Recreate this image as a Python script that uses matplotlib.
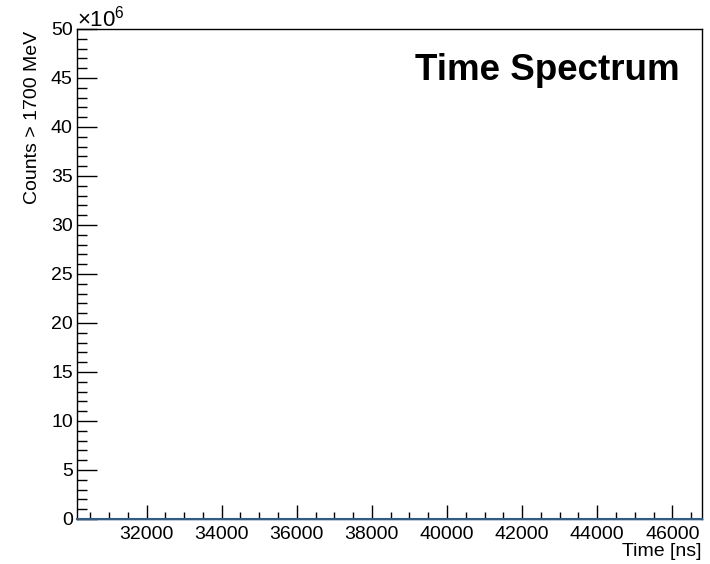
import matplotlib
matplotlib.use("Agg")
import matplotlib.pyplot as plt
from matplotlib.ticker import MultipleLocator, FuncFormatter

plt.rcParams['font.family'] = ['Liberation Sans', 'DejaVu Sans']
plt.rcParams['mathtext.fontset'] = 'custom'
plt.rcParams['mathtext.rm'] = 'Liberation Sans'
plt.rcParams['mathtext.it'] = 'Liberation Sans:italic'

# histogram: time range and counts (empty spectrum)
time_edges = [30150, 46790]
counts = [0, 0]

fig = plt.figure(figsize=(7.1, 5.64), dpi=100)
ax = fig.add_axes([0.1085, 0.0798, 0.8802, 0.8688])

ax.plot(time_edges, counts, color='#2c5d8f', lw=1.5, drawstyle='steps-post', clip_on=False, zorder=3)

ax.set_xlim(30150, 46790)
ax.set_ylim(0, 50e6)

ax.xaxis.set_major_locator(MultipleLocator(2000))
ax.xaxis.set_minor_locator(MultipleLocator(500))
ax.yaxis.set_major_locator(MultipleLocator(5e6))
ax.yaxis.set_minor_locator(MultipleLocator(1e6))
ax.yaxis.set_major_formatter(FuncFormatter(lambda v, p: f"{v/1e6:g}"))

ax.tick_params(axis='both', which='both', direction='in', labelsize=14, width=1)
ax.tick_params(axis='x', which='major', length=10, pad=5)
ax.tick_params(axis='x', which='minor', length=5)
ax.tick_params(axis='y', which='major', length=14.4, pad=3)
ax.tick_params(axis='y', which='minor', length=7.2)

for s in ax.spines.values():
    s.set_linewidth(1)

ax.set_xlabel('Time [ns]', loc='right', fontsize=14, labelpad=0)
ax.set_ylabel('Counts > 1700 MeV', fontsize=14, ha='right')
ax.yaxis.set_label_coords(-0.057, 0.997)

ax.text(0.0, 0.995, r'$\times10^{6}$', transform=ax.transAxes, ha='left', va='bottom', fontsize=16)
ax.text(0.965, 0.915, 'Time Spectrum', transform=ax.transAxes, ha='right', va='center',
        fontsize=26.5, fontweight='bold')

fig.savefig('out.png', dpi=100)
